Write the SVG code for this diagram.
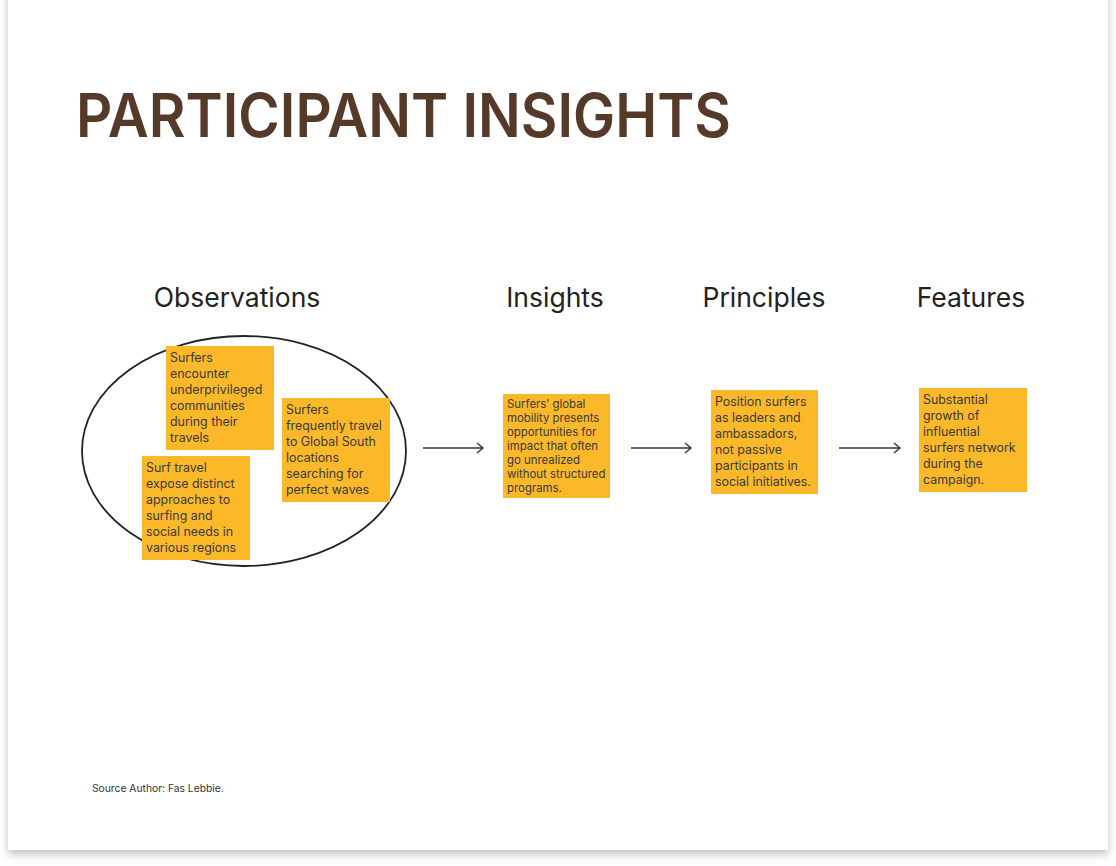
<svg xmlns="http://www.w3.org/2000/svg" width="1116" height="866" viewBox="0 0 1116 866">
<defs>
<filter id="sh" x="-5%" y="-5%" width="110%" height="110%">
<feDropShadow dx="0" dy="4" stdDeviation="4" flood-color="#000" flood-opacity="0.25"/>
</filter>
<marker id="ar" markerWidth="12" markerHeight="12" refX="9" refY="6" orient="auto" markerUnits="userSpaceOnUse">
<path d="M3,1 L9,6 L3,11" fill="none" stroke="#333" stroke-width="1.4"/>
</marker>
</defs>
<style>
.title{font-family:Inter,"Liberation Sans",sans-serif;font-weight:600;font-size:60px;fill:#563a29}
.hd{font-family:Inter,"Liberation Sans",sans-serif;font-size:26.5px;fill:#222;text-anchor:middle}
.note{fill:#fbb829}
.nt{font-family:Inter,"Liberation Sans",sans-serif;font-size:12.4px;fill:#3a3a3a}
.nts{font-family:Inter,"Liberation Sans",sans-serif;font-size:11.4px;fill:#3a3a3a}
.conn{stroke:#333;stroke-width:1.4;fill:none}
.src{font-family:Inter,"Liberation Sans",sans-serif;font-size:10.3px;fill:#333}
</style>
<rect width="1116" height="866" fill="#ffffff"/>
<rect x="8" y="-10" width="1100" height="860" fill="#ffffff" filter="url(#sh)"/>
<text class="title" x="76" y="137" textLength="655" lengthAdjust="spacingAndGlyphs">PARTICIPANT INSIGHTS</text>
<g id="headers">
<text class="hd" x="237" y="307">Observations</text>
<text class="hd" x="555" y="307">Insights</text>
<text class="hd" x="764" y="307">Principles</text>
<text class="hd" x="971" y="307">Features</text>
</g>
<g id="observations-group">
<ellipse cx="244" cy="451" rx="162" ry="115" fill="none" stroke="#222" stroke-width="1.8"/>
</g>
<g id="obs1">
<rect class="note" x="166" y="346" width="108" height="104"/>
<text class="nt" x="170" y="362"><tspan x="170">Surfers</tspan><tspan x="170" dy="16">encounter</tspan><tspan x="170" dy="16">underprivileged</tspan><tspan x="170" dy="16">communities</tspan><tspan x="170" dy="16">during their</tspan><tspan x="170" dy="16">travels</tspan></text>
</g>
<g id="obs2">
<rect class="note" x="282" y="398" width="108" height="104"/>
<text class="nt" x="286" y="414"><tspan x="286">Surfers</tspan><tspan x="286" dy="16">frequently travel</tspan><tspan x="286" dy="16">to Global South</tspan><tspan x="286" dy="16">locations</tspan><tspan x="286" dy="16">searching for</tspan><tspan x="286" dy="16">perfect waves</tspan></text>
</g>
<g id="obs3">
<rect class="note" x="142" y="456" width="108" height="104"/>
<text class="nt" x="146" y="472"><tspan x="146">Surf travel</tspan><tspan x="146" dy="16">expose distinct</tspan><tspan x="146" dy="16">approaches to</tspan><tspan x="146" dy="16">surfing and</tspan><tspan x="146" dy="16">social needs in</tspan><tspan x="146" dy="16">various regions</tspan></text>
</g>
<g id="insight">
<rect class="note" x="503" y="394" width="107" height="104"/>
<text class="nts" x="507" y="408"><tspan x="507">Surfers’ global</tspan><tspan x="507" dy="14">mobility presents</tspan><tspan x="507" dy="14">opportunities for</tspan><tspan x="507" dy="14">impact that often</tspan><tspan x="507" dy="14">go unrealized</tspan><tspan x="507" dy="14">without structured</tspan><tspan x="507" dy="14">programs.</tspan></text>
</g>
<g id="principle">
<rect class="note" x="711" y="390" width="107" height="104"/>
<text class="nt" x="715" y="406"><tspan x="715">Position surfers</tspan><tspan x="715" dy="16">as leaders and</tspan><tspan x="715" dy="16">ambassadors,</tspan><tspan x="715" dy="16">not passive</tspan><tspan x="715" dy="16">participants in</tspan><tspan x="715" dy="16">social initiatives.</tspan></text>
</g>
<g id="feature">
<rect class="note" x="919" y="388" width="108" height="104"/>
<text class="nt" x="923" y="404"><tspan x="923">Substantial</tspan><tspan x="923" dy="16">growth of</tspan><tspan x="923" dy="16">influential</tspan><tspan x="923" dy="16">surfers network</tspan><tspan x="923" dy="16">during the</tspan><tspan x="923" dy="16">campaign.</tspan></text>
</g>
<g id="connectors">
<line class="conn" x1="423" y1="448" x2="483" y2="448" marker-end="url(#ar)"/>
<line class="conn" x1="631" y1="448" x2="691" y2="448" marker-end="url(#ar)"/>
<line class="conn" x1="839" y1="448" x2="900" y2="448" marker-end="url(#ar)"/>
</g>
<text class="src" x="92" y="792">Source Author: Fas Lebbie.</text>
</svg>
